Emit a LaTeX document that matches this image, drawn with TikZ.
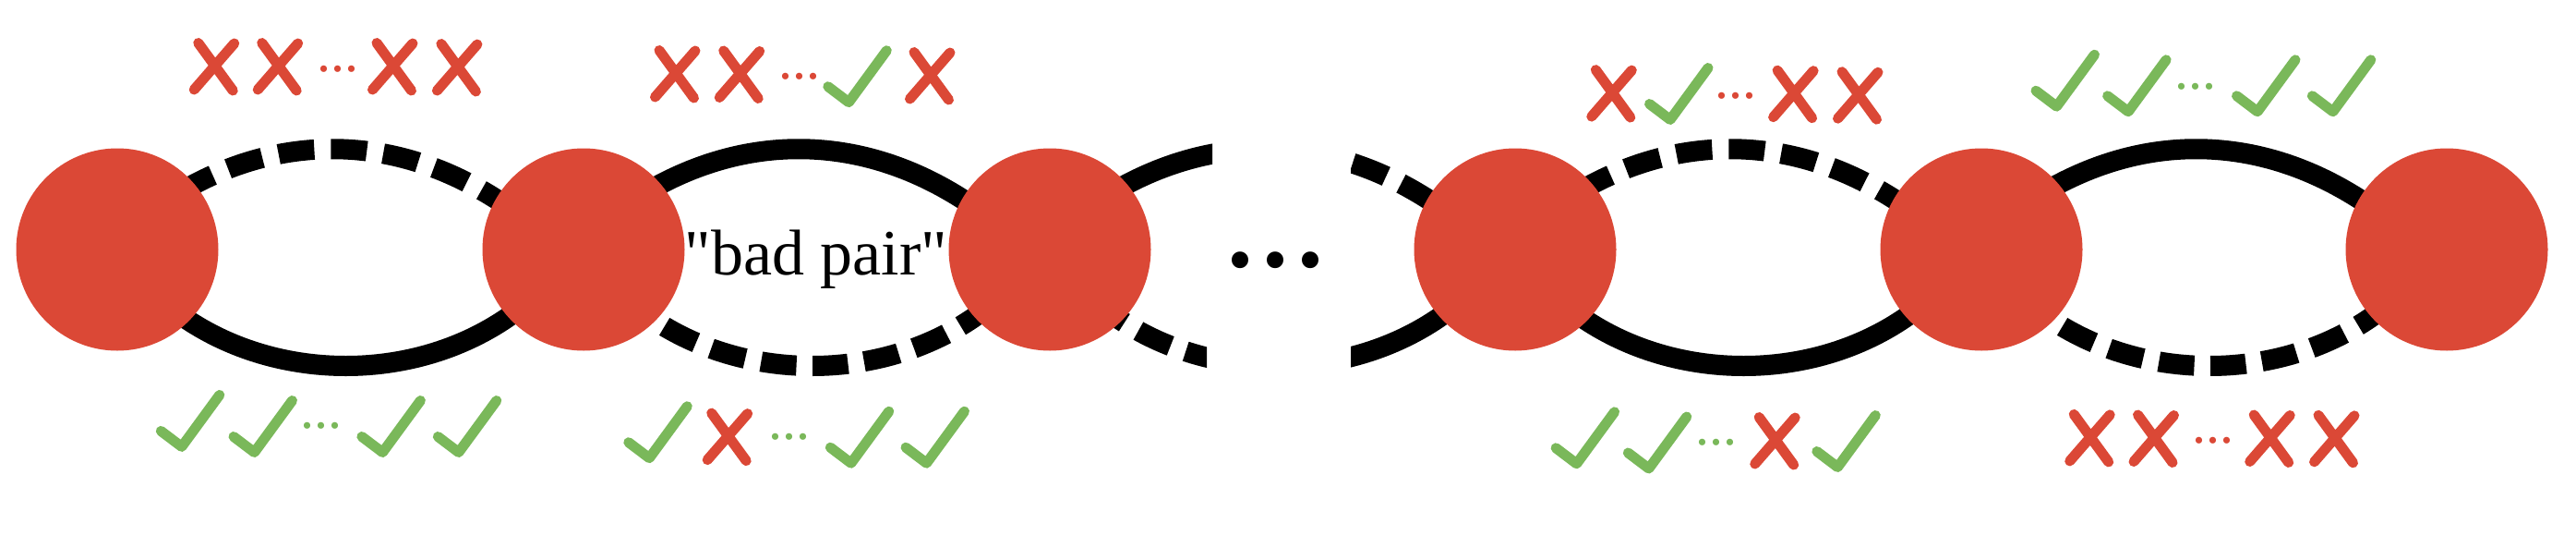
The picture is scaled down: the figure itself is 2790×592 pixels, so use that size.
\documentclass[tikz,border=0pt]{standalone}
\usepackage{fontspec}
\setmainfont{Liberation Serif}
\newfontfamily\bpfont[Ligatures=TeXOff]{Liberation Serif}
\usetikzlibrary{backgrounds}
\definecolor{nodered}{RGB}{219,72,54}
\definecolor{markgreen}{RGB}{122,184,90}
\tikzset{
  vtx/.style={circle, fill=nodered, minimum size=219pt, inner sep=0pt},
  edgeline/.style={line width=22pt, black},
  topdash/.style={edgeline, dash pattern=on 39pt off 18pt, dash phase=10.8pt},
  botdash/.style={edgeline, dash pattern=on 38.5pt off 17.5pt, dash phase=46pt},
  smalldots/.style={inner sep=0pt, anchor=base, font=\fontsize{60}{64}\selectfont},
  xmark/.pic={\draw[nodered, line width=11pt, line cap=round] (-18,-25.5) -- (19.5,26) (21,-25) -- (-22.5,25);},
  cmark/.pic={\draw[markgreen, line width=11pt, line cap=round, line join=round] (-22.5,-17) -- (0,0) -- (41,-56);}
}
\begin{document}
\begin{tikzpicture}[x=1pt,y=-1pt]
\useasboundingbox (0,0) rectangle (2790,592);
% vertices
\node[vtx] (n1) at (127,270) {};
\node[vtx] (n2) at (632,270) {};
\node[vtx] (n3) at (1137,270) {};
\node[vtx] (n4) at (1641,270) {};
\node[vtx] (n5) at (2146,270) {};
\node[vtx] (n6) at (2650,270) {};
\coordinate (v3) at (1642,270);
\coordinate (v4) at (1136,270);
\begin{scope}[on background layer]
  % pair 1-2
  \draw[topdash] ([xshift=-13pt]n1.center) .. controls +(150,-145) and +(-150,-145) .. ([xshift=-26pt]n2.center);
  \draw[edgeline] (n1.center) .. controls +(110,168) and +(-110,168) .. ([xshift=-10pt]n2.center);
  % pair 2-3
  \draw[edgeline] ([xshift=-13pt]n2.center) .. controls +(150,-145) and +(-150,-145) .. ([xshift=-26pt]n3.center);
  \draw[botdash] (n2.center) .. controls +(110,168) and +(-110,168) .. ([xshift=-10pt]n3.center);
  % right of 3 (cut)
  \begin{scope}
    \clip (0,0) rectangle (1313,592);
    \draw[edgeline] ([xshift=-13pt]n3.center) .. controls +(150,-145) and +(-150,-145) .. ([xshift=-26pt]v3);
  \end{scope}
  \begin{scope}
    \clip (0,0) rectangle (1307,592);
    \draw[botdash, dash phase=36.5pt] (n3.center) .. controls +(110,168) and +(-110,168) .. ([xshift=-10pt]v3);
  \end{scope}
  % left of 4 (cut)
  \begin{scope}
    \clip (1463,0) rectangle (2790,592);
    \draw[topdash, dash phase=25.6pt] ([xshift=-13pt]v4) .. controls +(150,-145) and +(-150,-145) .. ([xshift=-26pt]n4.center);
    \draw[edgeline] (v4) .. controls +(110,168) and +(-110,168) .. ([xshift=-10pt]n4.center);
  \end{scope}
  % pair 4-5
  \draw[topdash] ([xshift=-13pt]n4.center) .. controls +(150,-145) and +(-150,-145) .. ([xshift=-26pt]n5.center);
  \draw[edgeline] (n4.center) .. controls +(110,168) and +(-110,168) .. ([xshift=-10pt]n5.center);
  % pair 5-6
  \draw[edgeline] ([xshift=-13pt]n5.center) .. controls +(150,-145) and +(-150,-145) .. ([xshift=-26pt]n6.center);
  \draw[botdash] (n5.center) .. controls +(110,168) and +(-110,168) .. ([xshift=-10pt]n6.center);
\end{scope}
% label
\node[anchor=base, inner sep=0pt, font=\bpfont\fontsize{70}{84}\selectfont] (bp) at (884,297.7) {"bad pair"};
\node[anchor=base, inner sep=0pt, font=\fontsize{152}{160}\selectfont] (ell) at (1381,288.8) {...};
% group A top
\pic at (232.75,72) {xmark}; \pic at (301.7,72) {xmark};
\node[smalldots, text=nodered] (d1) at (366.3,77.4) {...};
\pic at (426,72) {xmark}; \pic at (495.9,73) {xmark};
% group A bottom
\pic at (196.8,483.4) {cmark}; \pic at (275.5,489.5) {cmark};
\node[smalldots, text=markgreen] (d2) at (348.2,463.5) {...};
\pic at (414.4,489.5) {cmark}; \pic at (496.8,489.5) {cmark};
% group B top
\pic at (732,80) {xmark}; \pic at (801.7,80.5) {xmark};
\node[smalldots, text=nodered] (d3) at (865.6,85.3) {...};
\pic at (919.3,110.7) {cmark}; \pic at (1008,82) {xmark};
% group C bottom
\pic at (703.3,495.7) {cmark}; \pic at (788.7,472.6) {xmark};
\node[smalldots, text=markgreen] (d4) at (855.4,475.6) {...};
\pic at (921.8,501.2) {cmark}; \pic at (1003.5,501.2) {cmark};
% group D top
\pic at (1746.3,101.1) {xmark}; \pic at (1809,129.5) {cmark};
\node[smalldots, text=nodered] (d5) at (1879.8,106.8) {...};
\pic at (1943.1,101.7) {xmark}; \pic at (2013,103.2) {xmark};
% group E bottom
\pic at (1707.6,501.8) {cmark}; \pic at (1785.8,507) {cmark};
\node[smalldots, text=markgreen] (d6) at (1858.9,481.7) {...};
\pic at (1923.2,477) {xmark}; \pic at (1990.3,505.5) {cmark};
% group F top
\pic at (2227.5,115.2) {cmark}; \pic at (2305.1,120.8) {cmark};
\node[smalldots, text=markgreen] (d7) at (2378,96.2) {...};
\pic at (2445,120.8) {cmark}; \pic at (2526.8,120.8) {cmark};
% group G bottom
\pic at (2264.2,473.9) {xmark}; \pic at (2333.5,474.5) {xmark};
\node[smalldots, text=nodered] (d8) at (2397,479.8) {...};
\pic at (2459.2,474.5) {xmark}; \pic at (2529,474.8) {xmark};
\end{tikzpicture}
\end{document}
